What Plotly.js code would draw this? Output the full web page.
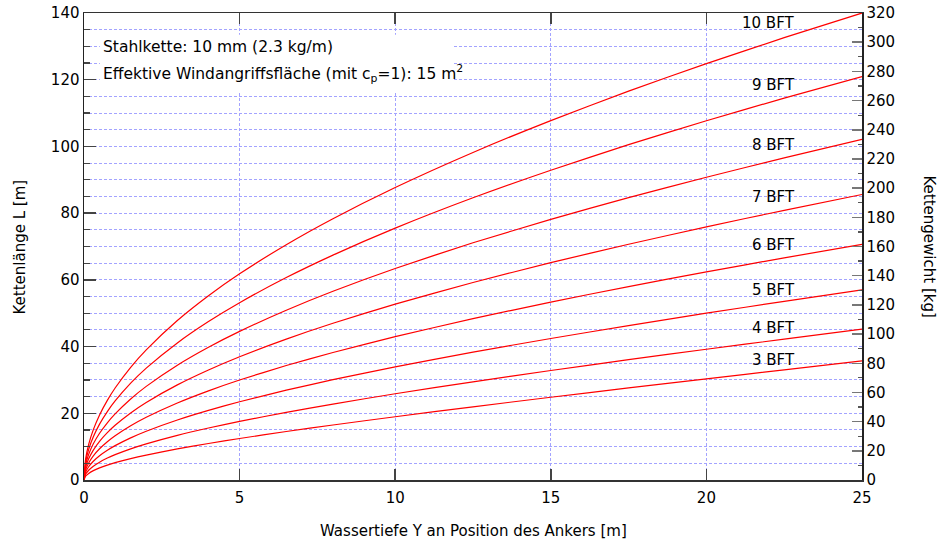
<!DOCTYPE html>
<html>
<head>
<meta charset="utf-8">
<script src="https://cdn.plot.ly/plotly-3.0.1.min.js"></script>
<style>html,body{margin:0;padding:0;background:#fff;}#chart{width:938px;height:545px;}</style>
</head>
<body>
<div id="chart"></div>
<script>
// Wassertiefe Y [m]
const depth = [0, 0.05, 0.15, 0.3, 0.5, 0.75, 1, 1.5, 2, 3, 4, 5, 6.5, 8, 10, 12.5, 15, 17.5, 20, 22.5, 25];
// Kettenlänge L [m] per Windstärke
const bft10 = [0, 6.16, 10.67, 15.09, 19.49, 23.87, 27.57, 33.78, 39.01, 47.81, 55.24, 61.81, 70.54, 78.33, 87.69, 98.20, 107.75, 116.57, 124.82, 132.60, 140.0];
const bft9  = [0, 5.29, 9.17, 12.96, 16.74, 20.51, 23.69, 29.02, 33.53, 41.10, 47.50, 53.15, 60.68, 67.41, 75.50, 84.60, 92.87, 100.53, 107.70, 114.48, 120.93];
const bft8  = [0, 4.43, 7.67, 10.85, 14.01, 17.16, 19.82, 24.30, 28.07, 34.42, 39.80, 44.55, 50.89, 56.57, 63.40, 71.11, 78.13, 84.65, 90.77, 96.57, 102.10];
const bft7  = [0, 3.66, 6.34, 8.97, 11.59, 14.20, 16.40, 20.11, 23.24, 28.51, 32.98, 36.95, 42.24, 46.99, 52.73, 59.21, 65.15, 70.68, 75.89, 80.85, 85.59];
const bft6  = [0, 2.96, 5.12, 7.24, 9.36, 11.47, 13.25, 16.25, 18.79, 23.08, 26.73, 29.97, 34.31, 38.22, 42.97, 48.36, 53.33, 57.98, 62.39, 66.59, 70.64];
const bft5  = [0, 2.29, 3.97, 5.62, 7.26, 8.91, 10.30, 12.64, 14.63, 18.00, 20.88, 23.45, 26.92, 30.07, 33.91, 38.32, 42.43, 46.30, 50.00, 53.56, 57.01];
const bft4  = [0, 1.69, 2.92, 4.14, 5.35, 6.57, 7.60, 9.35, 10.84, 13.39, 15.59, 17.58, 20.28, 22.77, 25.85, 29.43, 32.82, 36.06, 39.19, 42.24, 45.22];
const bft3  = [0, 1.14, 1.98, 2.81, 3.64, 4.48, 5.20, 6.42, 7.48, 9.33, 10.95, 12.45, 14.53, 16.49, 18.97, 21.94, 24.80, 27.59, 30.33, 33.03, 35.71];

const seriesNames = ["10 BFT", "9 BFT", "8 BFT", "7 BFT", "6 BFT", "5 BFT", "4 BFT", "3 BFT"];
const seriesValues = [bft10, bft9, bft8, bft7, bft6, bft5, bft4, bft3];
// label positions (x in m, y in m)
const labelX = 22.9;
const labelY = [136.9, 118.4, 100.4, 84.7, 70.4, 57.0, 45.5, 36.0];

// weight axis range [kg]
const weightRange = [0, 320];

const FONT = "DejaVu Sans, sans-serif";
const GRID = "#a3a3ff";

const traces = seriesValues.map((v, i) => ({
  x: depth, y: v, type: "scatter", mode: "lines", name: seriesNames[i],
  line: {color: "#ff0000", width: 1.2, shape: "spline", smoothing: 0.6},
  hoverinfo: "skip", showlegend: false
}));
traces.push({x: [0, 25], y: weightRange, yaxis: "y2", type: "scatter", mode: "lines",
  line: {color: "rgba(0,0,0,0)"}, hoverinfo: "skip", showlegend: false});

const annotations = seriesNames.map((n, i) => ({
  x: labelX, y: labelY[i], xref: "x", yref: "y", text: n, showarrow: false,
  xanchor: "right", yanchor: "middle", font: {family: FONT, size: 15, color: "#000"}
}));
annotations.push(
  {x: 0.55, y: 129.9, xref: "x", yref: "y", text: "Stahlkette: 10 mm (2.3 kg/m)", showarrow: false,
   xanchor: "left", yanchor: "middle", font: {family: FONT, size: 15.5, color: "#000"}},
  {x: 0.55, y: 122.0, xref: "x", yref: "y", text: "Effektive Windangriffsfläche (mit c<sub>p</sub>=1): 15 m<sup>2</sup>", showarrow: false,
   xanchor: "left", yanchor: "middle", font: {family: FONT, size: 15.5, color: "#000"}},
  {x: 0.5, y: -0.1092, xref: "paper", yref: "paper", text: "Wassertiefe Y an Position des Ankers [m]", showarrow: false,
   xanchor: "center", yanchor: "middle", font: {family: FONT, size: 15, color: "#000"}},
  {x: -0.0823, y: 0.5, xref: "paper", yref: "paper", text: "Kettenlänge L [m]", showarrow: false, textangle: -90,
   xanchor: "center", yanchor: "middle", font: {family: FONT, size: 15, color: "#000"}},
  {x: 1.0874, y: 0.5, xref: "paper", yref: "paper", text: "Kettengewicht [kg]", showarrow: false, textangle: 90,
   xanchor: "center", yanchor: "middle", font: {family: FONT, size: 15, color: "#000"}}
);

const layout = {
  width: 938, height: 545,
  margin: {l: 84, r: 76, t: 13, b: 65},
  paper_bgcolor: "#fff", plot_bgcolor: "#fff",
  font: {family: FONT, size: 15, color: "#000"},
  showlegend: false,
  xaxis: {
    range: [0, 25], dtick: 5, tick0: 0, ticks: "inside", ticklen: 11, tickwidth: 1.5, tickcolor: "#444",
    showline: true, linecolor: "#333", linewidth: 1.5, mirror: "ticks",
    showgrid: true, gridcolor: GRID, griddash: "3px,2px", gridwidth: 1, zeroline: false,
    ticklabelstandoff: 3,
    tickfont: {family: FONT, size: 15, color: "#000"}, fixedrange: true
  },
  yaxis: {
    range: [0, 140], dtick: 20, tick0: 0, ticks: "inside", ticklen: 12, tickwidth: 1.5, tickcolor: "#444",
    showline: true, linecolor: "#222", linewidth: 1.5,
    showgrid: true, gridcolor: GRID, griddash: "3px,2px", gridwidth: 1, zeroline: false,
    minor: {dtick: 5, tick0: 0, ticks: "inside", ticklen: 6, tickwidth: 1.2, tickcolor: "#444",
            showgrid: true, gridcolor: GRID, griddash: "3px,2px", gridwidth: 1},
    tickfont: {family: FONT, size: 15, color: "#000"}, fixedrange: true
  },
  yaxis2: {
    range: weightRange, dtick: 20, tick0: 0, overlaying: "y", side: "right",
    ticks: "inside", ticklen: 10, tickwidth: 1.5, tickcolor: "#777",
    showline: true, linecolor: "#222", linewidth: 1.5,
    showgrid: false, zeroline: false,
    minor: {dtick: 10, tick0: 0, ticks: "inside", ticklen: 4, tickwidth: 1.2, tickcolor: "#555", showgrid: false},
    tickfont: {family: FONT, size: 15, color: "#000"}, fixedrange: true
  },
  shapes: [
    {type: "rect", xref: "x", yref: "y", x0: 0.51, x1: 11.86, y0: 116.5, y1: 133.5,
     fillcolor: "#fff", line: {width: 0}, layer: "between"}
  ],
  annotations: annotations
};

Plotly.newPlot("chart", traces, layout, {displayModeBar: false, staticPlot: true});
</script>
</body>
</html>
